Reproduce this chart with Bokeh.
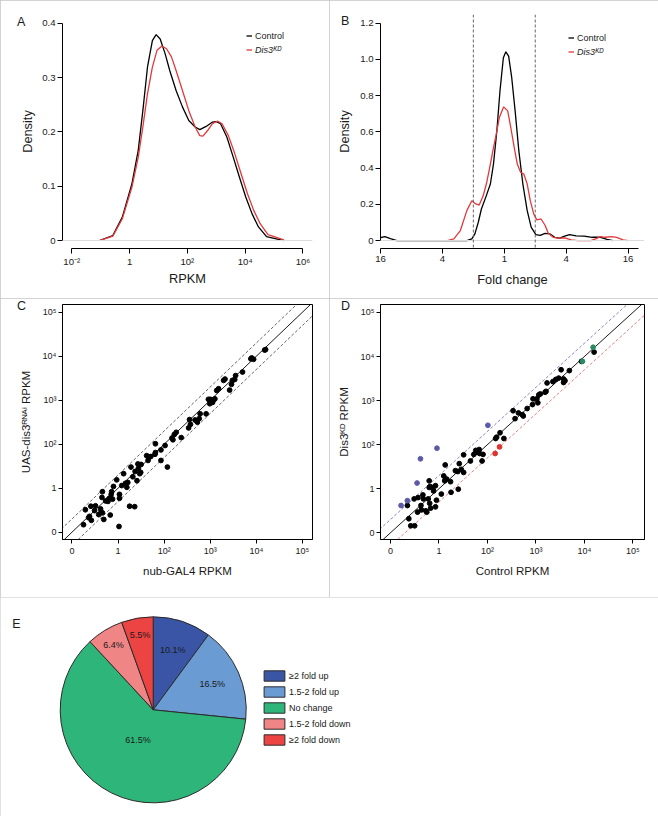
import numpy as np
from bokeh.plotting import figure
from bokeh.models import (FixedTicker, Span, Legend, LegendItem, Label, Slope,
                          ColumnDataSource, GridBox, Div)
from bokeh.layouts import column
from bokeh.embed import file_html
from bokeh.resources import INLINE
from bokeh.core.properties import value

FONT = "Liberation Sans"
INK = "#1a1a1a"
RED = "#e2393b"

# ---------------- data ----------------
# A: density of log10(RPKM)
a_ctrl_x = [-1.04, -0.58, -0.25, 0.08, 0.30, 0.46, 0.62, 0.79, 0.92, 1.06, 1.23, 1.39, 1.61, 1.83,
            2.05, 2.27, 2.43, 2.65, 2.87, 2.98, 3.15, 3.37, 3.59, 3.80, 4.02, 4.24, 4.46, 4.74, 5.34]
a_ctrl_y = [0.0, 0.009, 0.043, 0.104, 0.166, 0.239, 0.319, 0.368, 0.379, 0.371, 0.344, 0.313, 0.276, 0.246,
            0.221, 0.209, 0.204, 0.210, 0.218, 0.219, 0.215, 0.190, 0.153, 0.117, 0.080, 0.049, 0.025, 0.007, 0.0]
a_kd_x = [-1.04, -0.58, -0.25, 0.08, 0.30, 0.46, 0.62, 0.79, 0.95, 1.12, 1.28, 1.45, 1.61, 1.83, 2.05,
          2.27, 2.43, 2.54, 2.71, 2.87, 3.04, 3.20, 3.42, 3.64, 3.86, 4.08, 4.30, 4.52, 4.79, 5.34]
a_kd_y = [0.0, 0.008, 0.040, 0.098, 0.153, 0.209, 0.270, 0.319, 0.350, 0.358, 0.353, 0.338, 0.313, 0.276, 0.239,
          0.209, 0.193, 0.192, 0.203, 0.215, 0.220, 0.215, 0.193, 0.160, 0.123, 0.086, 0.055, 0.031, 0.011, 0.001]

# B: density of log2(fold change)
b_ctrl_x = [-4.03, -3.86, -3.68, -3.47, -1.21, -1.05, -0.95, -0.84, -0.74, -0.58, -0.45, -0.35, -0.24,
            -0.14, -0.03, 0.05, 0.14, 0.24, 0.35, 0.47, 0.60, 0.74, 0.87, 1.02, 1.16, 1.32, 1.47, 1.63,
            1.79, 1.95, 2.11, 2.32, 2.58, 2.84, 3.11, 3.32, 3.51]
b_ctrl_y = [0.015, 0.022, 0.011, 0.0, 0.0, 0.009, 0.037, 0.101, 0.174, 0.248, 0.312, 0.422, 0.606,
            0.826, 1.009, 1.042, 1.018, 0.899, 0.716, 0.495, 0.312, 0.165, 0.073, 0.033, 0.028, 0.040, 0.037, 0.018,
            0.013, 0.024, 0.033, 0.026, 0.024, 0.018, 0.018, 0.007, 0.0]
b_kd_x = [-1.84, -1.63, -1.42, -1.21, -1.05, -0.92, -0.81, -0.68, -0.58, -0.47, -0.37, -0.26, -0.16, -0.02,
          0.11, 0.21, 0.32, 0.42, 0.53, 0.63, 0.74, 0.84, 0.95, 1.05, 1.19, 1.32, 1.42, 1.58, 1.74, 1.95,
          2.16, 2.37, 2.79, 2.95, 3.11, 3.26, 3.47, 3.63, 3.84, 4.0]
b_kd_y = [0.0, 0.009, 0.055, 0.165, 0.220, 0.202, 0.196, 0.248, 0.312, 0.404, 0.495, 0.587, 0.679, 0.738,
          0.716, 0.624, 0.514, 0.422, 0.376, 0.367, 0.312, 0.220, 0.147, 0.114, 0.119, 0.083, 0.040, 0.018, 0.013, 0.015,
          0.004, 0.0, 0.0, 0.009, 0.022, 0.018, 0.022, 0.018, 0.004, 0.0]
fold_threshold = 2

# C: log10 RPKM, nub-GAL4 (x) vs UAS-dis3 RNAi (y)
c_points = [(0.25, 0.17), (0.29, 0.51), (0.36, 0.33), (0.38, 0.36), (0.42, 0.27), (0.41, 0.59),
            (0.51, 0.60), (0.49, 0.49), (0.58, 0.40), (0.62, 0.53), (0.63, 0.45), (0.66, 0.44),
            (0.69, 0.29), (0.66, 0.92), (0.65, 0.79), (0.73, 0.71), (0.78, 0.70), (0.80, 0.76),
            (0.84, 0.79), (0.85, 0.86), (0.86, 0.92), (0.83, 0.39), (0.88, 0.75), (0.90, 1.04),
            (0.97, 1.19), (1.03, 0.86), (1.03, 0.77), (1.02, 0.13), (1.08, 1.06), (1.12, 1.33),
            (1.16, 1.11), (1.19, 1.02), (1.21, 1.13), (1.25, 0.59), (1.36, 0.58), (1.28, 1.48),
            (1.32, 1.26), (1.37, 1.38), (1.41, 1.17), (1.44, 1.45), (1.43, 1.55), (1.50, 1.54),
            (1.47, 1.33), (1.49, 1.36), (1.62, 1.74), (1.65, 1.63), (1.67, 1.70), (1.71, 1.72),
            (1.81, 2.01), (1.81, 1.81), (1.80, 1.77), (1.93, 1.87), (1.93, 1.63), (2.02, 1.97),
            (2.07, 1.48), (2.17, 2.14), (2.19, 2.10), (2.22, 2.22), (2.26, 2.27), (2.37, 2.15),
            (2.53, 2.37), (2.57, 2.45), (2.55, 2.56), (2.67, 2.55), (2.72, 2.50), (2.76, 2.58),
            (2.78, 2.69), (2.91, 2.69), (2.99, 2.92), (2.96, 3.02), (3.00, 3.02), (3.07, 3.01),
            (3.10, 3.03), (3.05, 2.95), (3.14, 3.22), (3.18, 3.26), (3.29, 3.45), (3.32, 3.48),
            (3.42, 3.23), (3.46, 3.36), (3.48, 3.45), (3.53, 3.47), (3.55, 3.56), (3.70, 3.64),
            (3.88, 3.94), (3.90, 3.96), (3.94, 3.93), (4.18, 4.14), (4.20, 4.15)]

# D: log10 RPKM, Control (x) vs Dis3 KD (y)
d_black = [(0.35, 0.62), (0.38, 0.32), (0.42, 0.16), (0.50, 0.16), (0.49, 0.77), (0.56, 0.47),
           (0.57, 0.80), (0.63, 0.62), (0.64, 0.52), (0.67, 0.86), (0.68, 0.77), (0.73, 0.50),
           (0.75, 0.47), (0.78, 0.77), (0.80, 1.18), (0.81, 0.67), (0.83, 0.56), (0.80, 1.03),
           (0.82, 1.05), (0.88, 1.03), (0.89, 0.95), (0.93, 0.59), (0.95, 0.74), (0.93, 1.07),
           (1.05, 0.88), (1.10, 1.29), (1.12, 1.18), (1.13, 1.54), (1.16, 1.22), (1.24, 1.16),
           (1.25, 0.92), (1.34, 1.41), (1.39, 1.39), (1.42, 1.57), (1.46, 1.44), (1.40, 0.99),
           (1.51, 1.37), (1.51, 1.77), (1.65, 1.63), (1.72, 1.78), (1.76, 1.87), (1.80, 1.84),
           (1.83, 1.89), (1.84, 1.80), (1.91, 1.78), (1.89, 1.63), (2.17, 2.14), (2.19, 2.17),
           (2.26, 2.27), (2.34, 2.14), (2.53, 2.77), (2.57, 2.59), (2.64, 2.72), (2.72, 2.68),
           (2.74, 2.65), (2.82, 2.82), (2.93, 2.91), (2.94, 3.04), (3.02, 3.04), (3.04, 2.95),
           (3.06, 3.13), (3.09, 3.15), (3.19, 3.19), (3.21, 3.21), (3.23, 3.40), (3.35, 3.43),
           (3.41, 3.48), (3.47, 3.51), (3.52, 3.70), (3.57, 3.41), (3.57, 3.49), (3.60, 3.45),
           (3.69, 3.68), (3.94, 3.89), (4.20, 4.10)]
d_up = [(0.22, 0.62), (0.35, 0.73), (0.55, 1.13), (0.62, 1.68), (0.96, 1.92), (2.01, 2.44)]
d_down = [(2.16, 1.80), (2.25, 1.95)]
d_other = [(3.96, 3.89), (4.18, 4.21)]

# E: pie
e_labels = ["≥2 fold up", "1.5-2 fold up", "No change", "1.5-2 fold down", "≥2 fold down"]
e_values = [10.1, 16.5, 61.5, 6.4, 5.5]
e_colors = ["#3a55a5", "#6a9bd3", "#2db57a", "#f08585", "#ec4343"]

# ticks
a_xticks = [-2, 0, 2, 4, 6]
a_xlabels = ["10⁻²", "1", "10²", "10⁴", "10⁶"]
a_yticks = [0, 0.1, 0.2, 0.3, 0.4]
a_ylabels = ["0", "0.1", "0.2", "0.3", "0.4"]
b_xticks = [-4, -2, 0, 2, 4]
b_xlabels = ["16", "4", "1", "4", "16"]
b_yticks = [0, 0.2, 0.4, 0.6, 0.8, 1.0, 1.2]
b_ylabels = ["0", "0.2", "0.4", "0.6", "0.8", "1.0", "1.2"]
cd_ticks = [0, 1, 2, 3, 4, 5]
cd_labels = ["0", "1", "10²", "10³", "10⁴", "10⁵"]

# ---------------- helpers ----------------
PANEL_STYLE = {"outline": "1px solid #c4c4c4", "outline-offset": "-1px"}


def make_fig(w, h, xr, yr, left, right, top, bottom, box=False):
    p = figure(width=w, height=h, x_range=xr, y_range=yr, output_backend="svg",
               toolbar_location=None, min_border_left=left, min_border_right=right,
               min_border_top=top, min_border_bottom=bottom)
    p.grid.visible = False
    p.background_fill_color = "white"
    p.border_fill_color = "white"
    p.outline_line_color = "black" if box else None
    p.outline_line_width = 1
    p.styles = PANEL_STYLE
    return p


def style_axes(p, xt, xl, yt, yl, tick_fs, title_fs, xtitle, ytitle, tick_out, xs, ys):
    for ax, t, l in ((p.xaxis[0], xt, xl), (p.yaxis[0], yt, yl)):
        ax.ticker = FixedTicker(ticks=t)
        ax.major_label_overrides = dict(zip(t, l))
        ax.axis_line_color = "black"
        ax.axis_line_width = 1
        ax.major_tick_line_color = "black"
        ax.major_tick_out = tick_out
        ax.major_tick_in = 0
        ax.minor_tick_line_color = None
        ax.major_label_text_font = FONT
        ax.major_label_text_font_size = tick_fs
        ax.major_label_text_color = INK
        ax.major_label_standoff = 2
        ax.axis_label_text_font = FONT
        ax.axis_label_text_font_size = title_fs
        ax.axis_label_text_font_style = "normal"
        ax.axis_label_text_color = INK
    p.xaxis[0].axis_label = xtitle
    p.yaxis[0].axis_label = ytitle
    p.xaxis[0].axis_label_standoff = xs
    p.yaxis[0].axis_label_standoff = ys


def letter_div(txt, left, top):
    return Div(text=txt, width=14, height=16, margin=(top, 0, 0, left),
               styles={"font-family": FONT, "font-size": "12.5px", "color": INK,
                       "line-height": "16px", "position": "relative", "z-index": "10"})


def one_legend(p, r, label, style, loc):
    leg = Legend(items=[LegendItem(label=label, renderers=[r])], location=loc,
                 padding=0, margin=0, spacing=0, glyph_width=6, glyph_height=11,
                 label_height=11, label_standoff=3, label_text_font=FONT,
                 label_text_font_size="9px", label_text_font_style=style,
                 label_text_color=INK, border_line_color=None, background_fill_alpha=0)
    p.add_layout(leg)


# ---------------- A ----------------
pA = make_fig(329, 298, (-2.32, 6.33), (-0.0147, 0.416), 62, 4, 14, 50)
pA.add_layout(Span(location=0, dimension="width", line_color="#dcdcdc", line_width=1))
rA1 = pA.line(a_ctrl_x, a_ctrl_y, line_color="black", line_width=1.3)
rA2 = pA.line(a_kd_x, a_kd_y, line_color=RED, line_width=1.3)
style_axes(pA, a_xticks, a_xlabels, a_yticks, a_ylabels, "9.6px", "12.8px", "RPKM", "Density", 5, 1, 4)
pA.xaxis[0].bounds = (a_xticks[0], a_xticks[-1])
pA.yaxis[0].bounds = (a_yticks[0], a_yticks[-1])
one_legend(pA, rA1, "Control", "normal", (184, 207))
one_legend(pA, rA2, "Dis3ᴷᴰ", "italic", (184, 193))

# ---------------- B ----------------
pB = make_fig(329, 298, (-4.0, 4.53), (-0.044, 1.248), 51, 8, 13, 50)
pB.add_layout(Span(location=0, dimension="width", line_color="#dcdcdc", line_width=1))
for fc in (-np.log2(fold_threshold), np.log2(fold_threshold)):
    pB.add_layout(Span(location=fc, dimension="height", line_color="#666666",
                       line_width=1, line_dash="3 2"))
rB1 = pB.line(b_ctrl_x, b_ctrl_y, line_color="black", line_width=1.3)
rB2 = pB.line(b_kd_x, b_kd_y, line_color=RED, line_width=1.3)
style_axes(pB, b_xticks, b_xlabels, b_yticks, b_ylabels, "9.6px", "12.8px", "Fold change", "Density", 5, 7, 5)
pB.xaxis[0].bounds = (-4, 4.35)
pB.yaxis[0].bounds = (b_yticks[0], b_yticks[-1])
one_legend(pB, rB1, "Control", "normal", (188, 205))
one_legend(pB, rB2, "Dis3ᴷᴰ", "italic", (188, 191))


# ---------------- C / D ----------------
def diag_lines(p, up_color, down_color):
    off = np.log10(fold_threshold)
    for icpt, col, dash in ((0, "black", "solid"), (off, up_color, "3 2"), (-off, down_color, "3 2")):
        s = Slope(gradient=1, y_intercept=icpt, line_color=col, line_width=0.9, line_dash=dash)
        s.level = "underlay"
        p.add_layout(s)


pC = make_fig(329, 299, (-0.206, 5.218), (-0.166, 5.175), 49, 17, 6, 58, box=True)
diag_lines(pC, "#555555", "#555555")
cx, cy = zip(*c_points)
pC.scatter(list(cx), list(cy), size=4.8, color="black")
style_axes(pC, cd_ticks, cd_labels, cd_ticks, cd_labels, "9px", "11.5px",
           "nub-GAL4 RPKM", "UAS-dis3ᴿᴺᴬⁱ RPKM", 4, 6, 8)

pD = make_fig(329, 299, (-0.204, 5.239), (-0.151, 5.18), 49, 14, 5, 58, box=True)
diag_lines(pD, "#7b7bbf", "#e57373")
for pts, col in ((d_black, "black"), (d_up, "#5a5aa8"), (d_down, "#e03030"), (d_other, "#2a8a62")):
    px_, py_ = zip(*pts)
    pD.scatter(list(px_), list(py_), size=4.8, color=col)
style_axes(pD, cd_ticks, cd_labels, cd_ticks, cd_labels, "9px", "11.5px",
           "Control RPKM", "Dis3ᴷᴰ RPKM", 4, 6, 8)

# ---------------- E ----------------
pE = figure(width=658, height=219, x_range=(-1.642, 5.433), y_range=(-1.147, 1.208),
            output_backend="svg", toolbar_location=None, min_border=0)
pE.axis.visible = False
pE.grid.visible = False
pE.outline_line_color = None
pE.styles = PANEL_STYLE
frac = np.array(e_values) / np.sum(e_values)
cum = np.concatenate([[0.0], np.cumsum(frac)])
start = np.pi / 2 - 2 * np.pi * cum[1:]
end = np.pi / 2 - 2 * np.pi * cum[:-1]
srcE = ColumnDataSource(dict(start=start, end=end, color=e_colors, label=e_labels))
rE = pE.wedge(x=0, y=0, radius=1, start_angle="start", end_angle="end",
              fill_color="color", line_color="#2b2b2b", line_width=1, source=srcE)
label_r = [0.675, 0.695, 0.365, 0.82, 0.82]
mid = (start + end) / 2
pE.text(x=list(np.array(label_r) * np.cos(mid)), y=list(np.array(label_r) * np.sin(mid)),
        text=[f"{v:.1f}%" for v in e_values], text_font=value(FONT),
        text_font_size=value("9px"), text_color=INK, text_align="center", text_baseline="middle")
legE = Legend(items=[LegendItem(label=lab, renderers=[rE], index=i) for i, lab in enumerate(e_labels)],
              location=(261, 70), padding=0, margin=0, spacing=3, glyph_width=26, glyph_height=13,
              label_height=13, label_standoff=2, label_text_font=FONT, label_text_font_size="9px",
              label_text_color=INK, border_line_color=None, background_fill_alpha=0)
pE.add_layout(legE)
pE.add_layout(Label(x=16, y=193, x_units="screen", y_units="screen", text="E",
                    text_font=FONT, text_font_size="12.5px", text_color=INK,
                    text_align="center", text_baseline="middle"))

top_grid = GridBox(children=[
    (pA, 0, 0), (pB, 0, 1), (pC, 1, 0), (pD, 1, 1),
    (letter_div("A", 17, 14), 0, 0), (letter_div("B", 12, 13), 0, 1),
    (letter_div("C", 17, 0), 1, 0), (letter_div("D", 12, 0), 1, 1),
])
layout = column(top_grid, pE)
open("out.html", "w").write(file_html(layout, INLINE))
